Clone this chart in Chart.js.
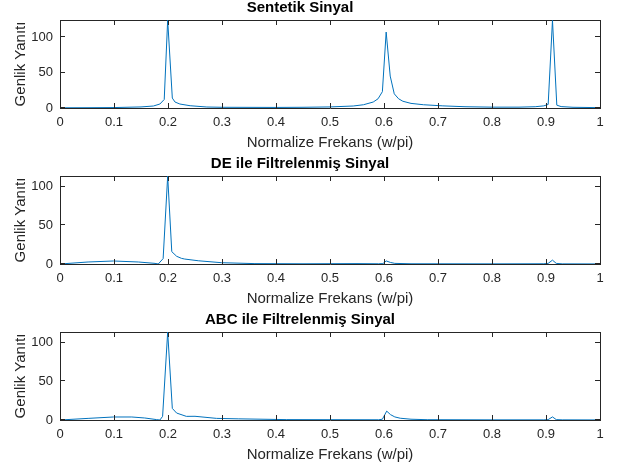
<!DOCTYPE html>
<html>
<head>
<meta charset="utf-8">
<script src="https://cdn.jsdelivr.net/npm/chart.js@4.4.1/dist/chart.umd.min.js"></script>
<style>
  body { margin: 0; background: #fff; }
  .panel { position: absolute; left: 0; width: 627px; height: 156px; }
</style>
</head>
<body>
<div class="panel" style="top:0px"><canvas id="c1" width="627" height="156"></canvas></div>
<div class="panel" style="top:156px"><canvas id="c2" width="627" height="156"></canvas></div>
<div class="panel" style="top:312px"><canvas id="c3" width="627" height="156"></canvas></div>
<script>
// Sentetik sinyal
const frekansSentetik = [0, 0.05, 0.1, 0.15, 0.173, 0.185, 0.193, 0.1994, 0.208, 0.213, 0.222, 0.241, 0.272, 0.3, 0.4, 0.45, 0.5, 0.543, 0.562, 0.58, 0.589, 0.597, 0.604, 0.6115, 0.619, 0.627, 0.635, 0.65, 0.673, 0.709, 0.75, 0.8, 0.85, 0.88, 0.896, 0.904, 0.912, 0.92, 0.928, 0.95, 1];
const genlikSentetik = [0.3, 0.4, 0.6, 1.5, 2.8, 5.6, 12, 124, 14, 8.4, 5.6, 3.2, 1.4, 1, 0.8, 1, 1.5, 2.8, 4.6, 8.4, 13, 23, 107, 45, 20, 13, 9.5, 6.5, 4.6, 3, 1.8, 1.2, 1.2, 1.8, 3, 5, 123.5, 4, 2, 1, 0.5];

// DE ile filtrelenmis
const frekansDE = [0, 0.052, 0.099, 0.145, 0.176, 0.182, 0.191, 0.1994, 0.207, 0.216, 0.225, 0.231, 0.256, 0.299, 0.361, 0.45, 0.55, 0.59, 0.598, 0.604, 0.612, 0.62, 0.65, 0.8, 0.896, 0.904, 0.912, 0.919, 0.93, 1];
const genlikDE = [0, 2.6, 3.9, 2.6, 0.8, 0, 7, 114, 16, 10, 7.3, 6.4, 4.2, 1.7, 0.5, 0.3, 0.5, 0.3, 0.5, 4, 2, 0.8, 0.3, 0.2, 0.3, 0.8, 5, 0.8, 0.2, 0.1];

// ABC ile filtrelenmis
const frekansABC = [0, 0.052, 0.099, 0.133, 0.157, 0.179, 0.185, 0.19, 0.1994, 0.208, 0.216, 0.234, 0.25, 0.29, 0.33, 0.42, 0.5, 0.59, 0.597, 0.605, 0.612, 0.62, 0.63, 0.65, 0.68, 0.8, 0.896, 0.904, 0.912, 0.919, 0.93, 1];
const genlikABC = [0, 2.1, 3.9, 3.9, 2.6, 0.5, 0, 4.7, 114, 15, 9, 4.7, 4.8, 2.1, 1.5, 0.5, 0.4, 0.3, 1, 11.5, 7, 4, 2.3, 1, 0.4, 0.2, 0.2, 0.5, 4, 0.5, 0.2, 0.1];

const xTicks = [0, 0.1, 0.2, 0.3, 0.4, 0.5, 0.6, 0.7, 0.8, 0.9, 1];
const yTicks = [0, 50, 100];

const eksenRengi = "#262626";
Chart.defaults.font.family = "'Liberation Sans', Arial, sans-serif";

// MATLAB tarzi ice dogru tikler (kutu cizgileri eksenlerin border'i)
const iceTikler = {
  id: "iceTikler",
  afterDatasetsDraw: (chart) => {
    const { ctx, chartArea: a, scales } = chart;
    const x = scales.x;
    const y = scales.y;
    ctx.save();
    ctx.strokeStyle = eksenRengi;
    ctx.lineWidth = 1;
    ctx.beginPath();
    xTicks.forEach((v) => {
      const px = Math.round(x.getPixelForValue(v)) + 0.5;
      ctx.moveTo(px, a.bottom);
      ctx.lineTo(px, a.bottom - 5);
      ctx.moveTo(px, a.top);
      ctx.lineTo(px, a.top + 5);
    });
    yTicks.forEach((v) => {
      const py = Math.round(y.getPixelForValue(v)) - 0.5;
      ctx.moveTo(a.left, py);
      ctx.lineTo(a.left + 5, py);
      ctx.moveTo(a.right, py);
      ctx.lineTo(a.right - 5, py);
    });
    ctx.stroke();
    ctx.restore();
  },
};

function kenar(position, min, max) {
  return {
    type: "linear",
    position: position,
    min: min,
    max: max,
    grid: { display: false, drawTicks: false },
    border: { display: true, color: eksenRengi, width: 1 },
    ticks: { display: false },
    afterFit: (s) => {
      if (s.isHorizontal()) s.height = 0;
      else s.width = 0;
    },
  };
}

function makeChart(id, title, frekans, genlik, ymax) {
  const points = frekans.map((f, i) => ({ x: f, y: genlik[i] }));
  return new Chart(document.getElementById(id), {
    type: "line",
    data: {
      datasets: [
        {
          data: points,
          borderColor: "#0072BD",
          borderWidth: 1,
          pointRadius: 0,
          tension: 0,
          fill: false,
        },
      ],
    },
    options: {
      responsive: false,
      animation: false,
      layout: { padding: { left: 0, right: 27, top: 0, bottom: 6 } },
      plugins: {
        legend: { display: false },
        tooltip: { enabled: false },
        title: {
          display: true,
          text: title,
          color: "#000",
          font: { size: 15, weight: "bold", lineHeight: 1 },
          padding: { top: 0, bottom: 5 },
        },
      },
      scales: {
        x: {
          type: "linear",
          min: 0,
          max: 1,
          grid: { display: false, drawTicks: false },
          border: { display: true, color: eksenRengi, width: 1 },
          afterFit: (s) => { s.height = 42; },
          afterBuildTicks: (s) => { s.ticks = xTicks.map((v) => ({ value: v })); },
          ticks: {
            color: eksenRengi,
            font: { size: 13 },
            padding: 7,
            maxRotation: 0,
            autoSkip: false,
            callback: (v) => String(Number(v.toFixed(1))),
          },
          title: {
            display: true,
            text: "Normalize Frekans (w/pi)",
            color: eksenRengi,
            font: { size: 15, lineHeight: 1 },
            padding: { top: 0, bottom: 0 },
          },
        },
        y: {
          min: 0,
          max: ymax,
          grid: { display: false, drawTicks: false },
          border: { display: true, color: eksenRengi, width: 1 },
          afterFit: (s) => { s.width = 60; },
          afterBuildTicks: (s) => { s.ticks = yTicks.map((v) => ({ value: v })); },
          ticks: {
            color: eksenRengi,
            font: { size: 13 },
            padding: 7,
            callback: (v) => String(v),
          },
          title: {
            display: true,
            text: "Genlik Yanıtı",
            color: eksenRengi,
            font: { size: 15, lineHeight: 1 },
            padding: { top: 13, bottom: 0 },
          },
        },
        xUst: kenar("top", 0, 1),
        ySag: kenar("right", 0, ymax),
      },
    },
    plugins: [iceTikler],
  });
}

makeChart("c1", "Sentetik Sinyal", frekansSentetik, genlikSentetik, 124);
makeChart("c2", "DE ile Filtrelenmiş Sinyal", frekansDE, genlikDE, 114);
makeChart("c3", "ABC ile Filtrelenmiş Sinyal", frekansABC, genlikABC, 114);
</script>
</body>
</html>
